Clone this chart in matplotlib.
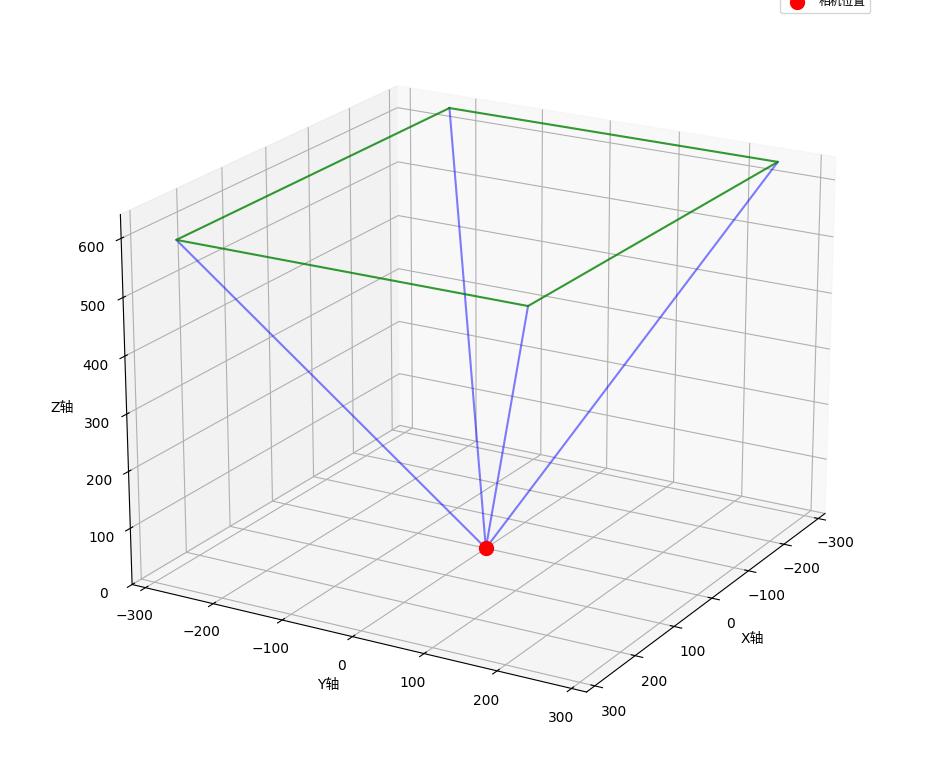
import matplotlib
matplotlib.use("Agg")
import matplotlib.pyplot as plt

plt.rcParams['font.family'] = ['DejaVu Sans', 'Noto Sans CJK SC']

# camera position and the four corners of the viewing area
CAM_X = [0]
CAM_Y = [0]
CAM_Z = [0]
CORNER_X = [-320, 320, 320, -320]
CORNER_Y = [-240, -240, 240, 240]
CORNER_Z = [615, 615, 615, 615]

fig = plt.figure(figsize=(9.51, 7.66), dpi=100)
ax = fig.add_axes([0.0, 0.004, 1.0, 1.0], projection="3d")

for x, y, z in zip(CORNER_X, CORNER_Y, CORNER_Z):
    ax.plot([CAM_X[0], x], [CAM_Y[0], y], [CAM_Z[0], z], color="blue", alpha=0.5)

ax.plot(CORNER_X + CORNER_X[:1], CORNER_Y + CORNER_Y[:1], CORNER_Z + CORNER_Z[:1],
        color="green", alpha=0.8)
ax.scatter(CAM_X, CAM_Y, CAM_Z, color="red", s=100, label="相机位置")

ax.set_xlim(-320, 320)
ax.set_ylim(-320, 320)
ax.set_zlim(0, 640)
ax.set_xticks([-300, -200, -100, 0, 100, 200, 300])
ax.set_yticks([-300, -200, -100, 0, 100, 200, 300])
ax.set_xlabel("X轴")
ax.set_ylabel("Y轴")
ax.set_zlabel("Z轴")
ax.view_init(elev=20, azim=30)
ax.set_box_aspect(None, zoom=1.045)
ax.legend(loc="upper right", fontsize=8.5, bbox_to_anchor=(0.921, 1.02), bbox_transform=fig.transFigure)

plt.savefig("out.png", dpi=100)
